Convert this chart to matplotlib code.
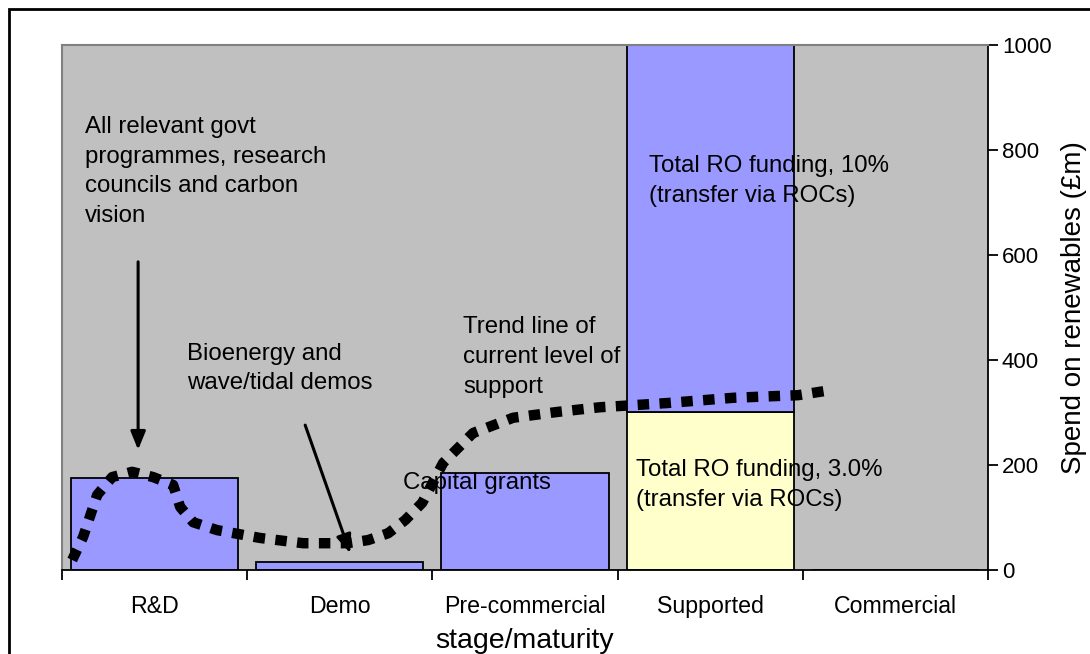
"""
Spend on renewables by stage of maturity, with the trend line of current support
"""
import matplotlib
matplotlib.use("Agg")
import matplotlib.pyplot as plt
from matplotlib.patches import Rectangle

plt.rcParams['font.family'] = ['Liberation Sans', 'DejaVu Sans']

# stages along the x axis
stages = ["R&D", "Demo", "Pre-commercial", "Supported", "Commercial"]
# blue bars (lower part of the Supported stage is the yellow bar)
spend_blue = [176, 15, 185, 0, 0]
supported_ro_low = 301      # Total RO funding, 3.0%
supported_ro_high = 1000    # Total RO funding, 10%

# trend line of current level of support (x in stage units, y in £m)
trend_x = [-0.445, -0.386, -0.31, -0.229, -0.121, -0.008, 0.10, 0.138, 0.208,
           0.337, 0.57, 0.802, 1.039, 1.153, 1.261, 1.353, 1.445, 1.558,
           1.72, 1.936, 2.173, 2.405, 2.767, 3.124, 3.475, 3.621]
trend_y = [19, 63, 143, 177, 187, 177, 162, 120, 91,
           76, 61, 51, 51, 57, 70, 95, 128, 204,
           261, 290, 301, 310, 318, 328, 333, 341]

BLUE = "#9999FF"
YELLOW = "#FFFFCC"
GREY = "#C0C0C0"


def draw_plot():
    fig = plt.figure(figsize=(10.9, 6.54), dpi=100)
    fig.patch.set_facecolor("white")
    ax = fig.add_axes([62 / 1090, 84 / 654, 926 / 1090, 525 / 654])
    ax.set_facecolor(GREY)

    pos = list(range(len(stages)))
    w = 0.902
    ax.bar(pos, spend_blue, width=w, color=BLUE, edgecolor="black", linewidth=1.3, zorder=2)
    # supported stage: yellow lower part, blue upper part
    ax.bar(3, supported_ro_low, width=w, color=YELLOW, edgecolor="black", linewidth=1.3, zorder=2)
    ax.bar(3, supported_ro_high - supported_ro_low, bottom=supported_ro_low, width=w,
           color=BLUE, edgecolor="black", linewidth=1.3, zorder=2)

    ax.plot(trend_x, trend_y, color="black", linewidth=7.5, linestyle=(0, (1.1, 1.0)),
            dash_capstyle="butt", zorder=4, clip_on=False)

    ax.set_xlim(-0.5, 4.5)
    ax.set_ylim(0, 1000)

    # x axis: labels centred, tick marks on stage boundaries
    ax.set_xticks(pos)
    ax.set_xticklabels(stages, fontsize=16.7)
    ax.set_xticks([p - 0.5 for p in pos] + [4.5], minor=True)
    ax.tick_params(axis="x", which="major", length=0, pad=18)
    ax.tick_params(axis="x", which="minor", length=7, width=1.3, direction="out")
    ax.set_xlabel("stage/maturity", fontsize=20.5, labelpad=7)

    ax.yaxis.tick_right()
    ax.yaxis.set_label_position("right")
    ax.set_yticks([0, 200, 400, 600, 800, 1000])
    ax.tick_params(axis="y", which="major", length=7, width=1.3, direction="out",
                   labelsize=16, pad=3)
    ax.set_ylabel("Spend on renewables (£m)", fontsize=20, labelpad=7)

    for side in ["top", "left"]:
        ax.spines[side].set_color("#808080")
        ax.spines[side].set_linewidth(1.5)
    for side in ["bottom", "right"]:
        ax.spines[side].set_color("black")
        ax.spines[side].set_linewidth(1.3)

    fs = 17.3
    ls = 1.45
    ax.text(-0.375, 865, "All relevant govt\nprogrammes, research\ncouncils and carbon\nvision",
            fontsize=fs, va="top", ha="left", linespacing=ls, zorder=5)
    ax.text(0.175, 433, "Bioenergy and\nwave/tidal demos",
            fontsize=fs, va="top", ha="left", linespacing=ls, zorder=5)
    ax.text(1.666, 483, "Trend line of\ncurrent level of\nsupport",
            fontsize=fs, va="top", ha="left", linespacing=ls, zorder=5)
    ax.text(1.342, 186, "Capital grants",
            fontsize=fs, va="top", ha="left", zorder=3)
    ax.text(2.670, 790, "Total RO funding, 10%\n(transfer via ROCs)",
            fontsize=fs, va="top", ha="left", linespacing=ls, zorder=3)
    ax.text(2.600, 211, "Total RO funding, 3.0%\n(transfer via ROCs)",
            fontsize=fs, va="top", ha="left", linespacing=ls, zorder=3)

    arrow = dict(arrowstyle="-|>,head_length=1.1,head_width=0.45", color="black",
                 linewidth=2.2, shrinkA=0, shrinkB=0)
    ax.annotate("", xy=(-0.089, 229), xytext=(-0.089, 587), arrowprops=arrow, zorder=5)
    ax.annotate("", xy=(1.056, 32), xytext=(0.813, 276), arrowprops=arrow, zorder=5)

    # outer chart frame
    fig.patches.append(Rectangle((9 / 1090, -0.1), 1.2, (645 / 654) + 0.1,
                                 transform=fig.transFigure, fill=False,
                                 edgecolor="black", linewidth=2))

    plt.savefig("out.png", dpi=100)


def main():
    draw_plot()


if __name__ == "__main__":
    main()
